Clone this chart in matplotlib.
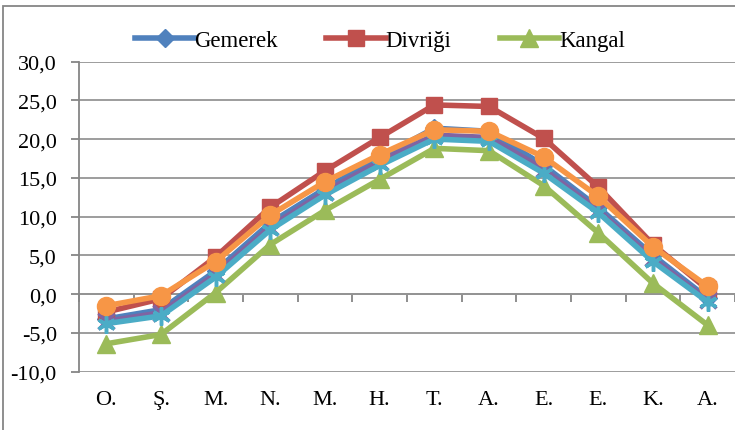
import matplotlib
matplotlib.use("Agg")
import matplotlib.pyplot as plt
from matplotlib.patches import Rectangle
import numpy as np

months = ["O.", "Ş.", "M.", "N.", "M.", "H.", "T.", "A.", "E.", "E.", "K.", "A."]
gemerek = [-3.2, -2.0, 3.0, 9.2, 13.6, 17.6, 21.4, 21.0, 16.6, 11.2, 5.0, -0.5]
divrigi = [-2.3, -0.6, 4.8, 11.2, 15.9, 20.2, 24.4, 24.2, 20.1, 13.8, 6.4, 0.6]
kangal = [-6.4, -5.2, 0.2, 6.4, 10.8, 14.8, 18.8, 18.5, 14.0, 7.9, 1.4, -4.0]
seri4 = [-3.5, -2.4, 2.6, 8.7, 13.2, 17.1, 20.5, 20.2, 16.1, 10.8, 4.6, -0.8]
seri5 = [-3.8, -2.8, 2.2, 8.3, 12.8, 16.6, 20.0, 19.7, 15.6, 10.5, 4.2, -1.0]
seri6 = [-1.5, -0.2, 4.2, 10.2, 14.5, 18.0, 21.2, 21.0, 17.7, 12.6, 6.1, 1.0]

names = ["Gemerek", "Divriği", "Kangal", "Seri4", "Seri5", "Seri6"]
series = [gemerek, divrigi, kangal, seri4, seri5, seri6]
colors = ["#4F81BD", "#C0504D", "#9BBB59", "#8064A2", "#4BACC6", "#F79646"]
markers = ["D", "s", "^", "x", (6, 2, 0), "o"]
msizes = [9, 12, 13, 11, 13, 13]

plt.rcParams["font.family"] = ["Liberation Serif", "DejaVu Serif"]

W, H = 735, 431
fig = plt.figure(figsize=(W / 100, H / 100), dpi=100)
left, right, top, bottom = 79, 735, 62.5, 372.7
ax = fig.add_axes([left / W, 1 - bottom / H, (right - left) / W, (bottom - top) / H])

x = np.arange(len(months))
handles = []
for s, c, m, ms, n in zip(series, colors, markers, msizes, names):
    thin = (m == "x") or isinstance(m, tuple)
    h, = ax.plot(x, s, color=c, lw=4.0, marker=m, markersize=ms,
                 markerfacecolor=c, markeredgecolor=c, markeredgewidth=2.5 if thin else 1,
                 solid_joinstyle="round", label=n, zorder=3)
    handles.append(h)

ax.set_xlim(-0.5, len(months) - 0.5)
ax.set_ylim(-10, 30)
yt = np.arange(-10, 31, 5)
ax.set_yticks(yt)
ax.set_yticklabels([f"{v:.1f}".replace(".", ",") for v in yt], fontsize=16)
ax.yaxis.grid(True, color="#959595", lw=1.3, zorder=0)
ax.set_axisbelow(True)
ax.tick_params(axis="y", length=6, width=1.3, color="#868686", pad=10)
ax.set_xticks(x)
ax.set_xticklabels(months, fontsize=16)
ax.tick_params(axis="x", length=0, pad=13)
for sp in ["top", "right", "bottom"]:
    ax.spines[sp].set_visible(False)
ax.spines["left"].set_color("#868686")
ax.spines["left"].set_linewidth(1.3)

sec = ax.secondary_xaxis(0.25)
sec.set_xticks(np.arange(-0.5, len(months), 1.0))
sec.set_xticklabels([])
sec.tick_params(axis="x", direction="out", length=6, width=1.3, color="#868686")
sec.spines["bottom"].set_color("#868686")
sec.spines["bottom"].set_linewidth(1.3)

fig.legend(handles[:3], names[:3], loc="center", ncol=3, frameon=False,
           bbox_to_anchor=(380 / W, 1 - 41 / H), fontsize=16.5,
           handlelength=2.6, handletextpad=0.0, columnspacing=2.1,
           borderpad=0, borderaxespad=0)

fig.patches.append(Rectangle((3 / W, -0.1), 1.2, 1 - 7 / H + 0.1, transform=fig.transFigure,
                             fill=False, edgecolor="#868686", lw=1.3))

fig.savefig("out.png", dpi=100)
